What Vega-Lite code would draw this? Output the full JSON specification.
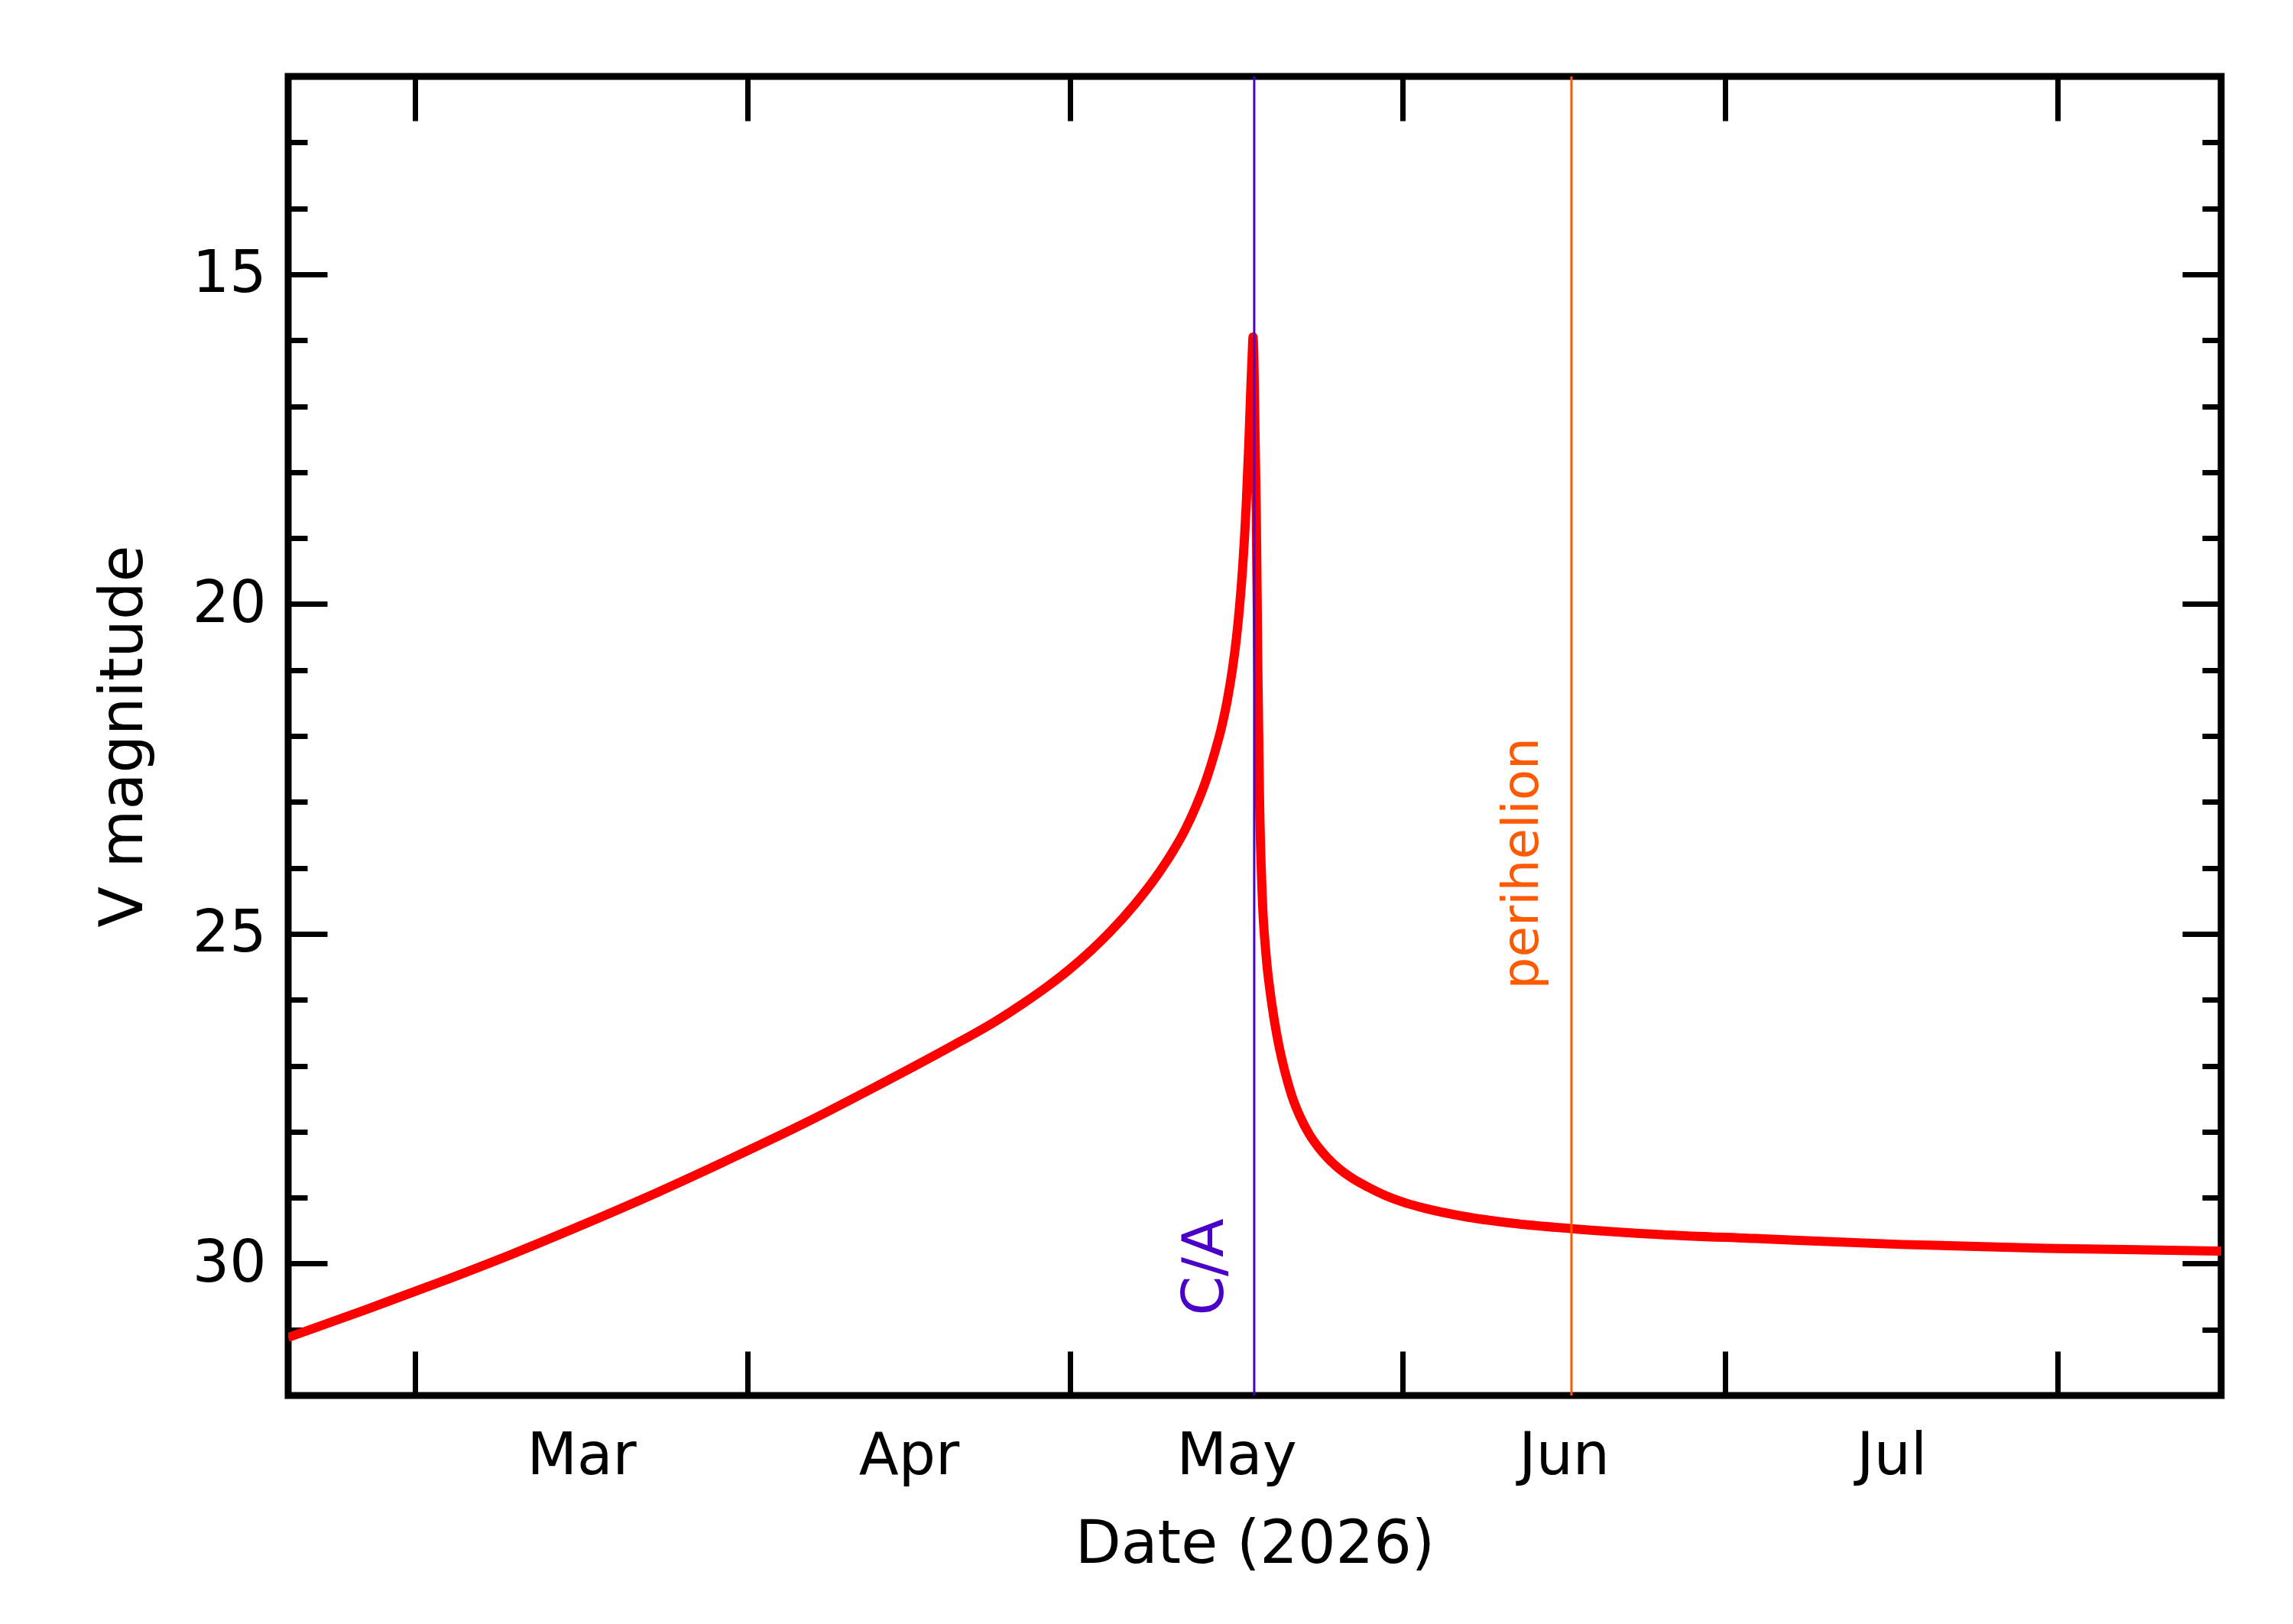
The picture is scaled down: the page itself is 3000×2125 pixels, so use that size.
{
  "$schema": "https://vega.github.io/schema/vega-lite/v6.json",
  "width": 2529,
  "height": 1726,
  "autosize": {"type": "none"},
  "padding": {"left": 377, "top": 100, "right": 94, "bottom": 299},
  "background": "white",
  "datasets": {
    "curve": [
      {"date": "2026-02-17T04:48:00Z", "mag": 31.12},
      {"date": "2026-02-24T09:36:00Z", "mag": 30.70},
      {"date": "2026-03-03T04:48:00Z", "mag": 30.29},
      {"date": "2026-03-10T00:00:00Z", "mag": 29.86},
      {"date": "2026-03-16T19:12:00Z", "mag": 29.40},
      {"date": "2026-03-23T14:24:00Z", "mag": 28.92},
      {"date": "2026-03-30T09:36:00Z", "mag": 28.41},
      {"date": "2026-04-06T04:48:00Z", "mag": 27.88},
      {"date": "2026-04-13T00:00:00Z", "mag": 27.31},
      {"date": "2026-04-19T21:36:00Z", "mag": 26.71},
      {"date": "2026-04-24T01:12:00Z", "mag": 26.33},
      {"date": "2026-04-26T16:48:00Z", "mag": 26.05},
      {"date": "2026-04-29T01:12:00Z", "mag": 25.78},
      {"date": "2026-04-30T19:12:00Z", "mag": 25.56},
      {"date": "2026-05-03T01:12:00Z", "mag": 25.24},
      {"date": "2026-05-04T19:12:00Z", "mag": 24.96},
      {"date": "2026-05-07T01:12:00Z", "mag": 24.55},
      {"date": "2026-05-09T00:00:00Z", "mag": 24.14},
      {"date": "2026-05-10T13:12:00Z", "mag": 23.76},
      {"date": "2026-05-11T16:48:00Z", "mag": 23.43},
      {"date": "2026-05-12T18:00:00Z", "mag": 23.06},
      {"date": "2026-05-13T16:48:00Z", "mag": 22.66},
      {"date": "2026-05-14T10:48:00Z", "mag": 22.27},
      {"date": "2026-05-15T02:24:00Z", "mag": 21.88},
      {"date": "2026-05-15T15:36:00Z", "mag": 21.46},
      {"date": "2026-05-16T02:24:00Z", "mag": 21.02},
      {"date": "2026-05-16T12:00:00Z", "mag": 20.52},
      {"date": "2026-05-16T19:12:00Z", "mag": 20.03},
      {"date": "2026-05-17T02:24:00Z", "mag": 19.40},
      {"date": "2026-05-17T09:36:00Z", "mag": 18.55},
      {"date": "2026-05-17T15:36:00Z", "mag": 17.60},
      {"date": "2026-05-17T20:24:00Z", "mag": 16.70},
      {"date": "2026-05-18T00:00:00Z", "mag": 16.10},
      {"date": "2026-05-18T01:12:00Z", "mag": 15.95},
      {"date": "2026-05-18T03:07:00Z", "mag": 16.30},
      {"date": "2026-05-18T06:00:00Z", "mag": 17.60},
      {"date": "2026-05-18T08:24:00Z", "mag": 18.60},
      {"date": "2026-05-18T12:00:00Z", "mag": 21.00},
      {"date": "2026-05-18T15:36:00Z", "mag": 22.90},
      {"date": "2026-05-18T21:36:00Z", "mag": 24.40},
      {"date": "2026-05-19T06:00:00Z", "mag": 25.30},
      {"date": "2026-05-19T15:50:00Z", "mag": 25.90},
      {"date": "2026-05-20T01:12:00Z", "mag": 26.33},
      {"date": "2026-05-20T10:34:00Z", "mag": 26.68},
      {"date": "2026-05-21T01:12:00Z", "mag": 27.11},
      {"date": "2026-05-21T15:36:00Z", "mag": 27.45},
      {"date": "2026-05-22T10:48:00Z", "mag": 27.78},
      {"date": "2026-05-23T07:00:00Z", "mag": 28.04},
      {"date": "2026-05-24T03:36:00Z", "mag": 28.24},
      {"date": "2026-05-25T00:00:00Z", "mag": 28.40},
      {"date": "2026-05-26T01:12:00Z", "mag": 28.56},
      {"date": "2026-05-27T03:07:00Z", "mag": 28.69},
      {"date": "2026-05-28T18:00:00Z", "mag": 28.84},
      {"date": "2026-05-30T09:36:00Z", "mag": 28.97},
      {"date": "2026-06-01T01:12:00Z", "mag": 29.07},
      {"date": "2026-06-03T00:00:00Z", "mag": 29.16},
      {"date": "2026-06-06T12:00:00Z", "mag": 29.28},
      {"date": "2026-06-11T07:12:00Z", "mag": 29.39},
      {"date": "2026-06-16T16:48:00Z", "mag": 29.47},
      {"date": "2026-06-25T01:12:00Z", "mag": 29.56},
      {"date": "2026-07-03T19:12:00Z", "mag": 29.62},
      {"date": "2026-07-17T09:36:00Z", "mag": 29.71},
      {"date": "2026-07-31T00:00:00Z", "mag": 29.77},
      {"date": "2026-08-16T04:48:00Z", "mag": 29.81}
    ],
    "events": [
      {"event": "C/A", "date": "2026-05-18T03:50:00Z"},
      {"event": "perihelion", "date": "2026-06-16T16:48:00Z"}
    ],
    "labels": [
      {"event": "C/A", "date": "2026-05-15T06:00:00Z", "mag": 30.79},
      {"event": "perihelion", "date": "2026-06-13T14:24:00Z", "mag": 25.84}
    ]
  },
  "data": {"name": "curve"},
  "layer": [
    {
      "mark": {"type": "line", "color": "#ff0000", "strokeWidth": 12, "interpolate": "monotone", "clip": true},
      "encoding": {
        "x": {
          "field": "date", "type": "temporal",
          "scale": {
            "type": "utc",
            "domain": [
              {"year": 2026, "month": "Feb", "date": 17, "hours": 4, "minutes": 48, "utc": true},
              {"year": 2026, "month": "Aug", "date": 16, "hours": 4, "minutes": 48, "utc": true}
            ]
          },
          "axis": {
            "orient": "bottom", "tickSize": -58, "labels": false, "title": null,
            "values": [
              {"year": 2026, "month": "Mar", "date": 1, "utc": true},
              {"year": 2026, "month": "Apr", "date": 1, "utc": true},
              {"year": 2026, "month": "May", "date": 1, "utc": true},
              {"year": 2026, "month": "Jun", "date": 1, "utc": true},
              {"year": 2026, "month": "Jul", "date": 1, "utc": true},
              {"year": 2026, "month": "Aug", "date": 1, "utc": true}
            ]
          }
        },
        "y": {
          "field": "mag", "type": "quantitative",
          "scale": {"domain": [12, 32], "reverse": true, "zero": false, "nice": false},
          "axis": {"orient": "left", "values": [15, 20, 25, 30], "tickSize": -51, "labels": false, "title": null}
        }
      }
    },
    {
      "mark": {"type": "line", "opacity": 0},
      "encoding": {
        "x": {
          "field": "date", "type": "temporal",
          "axis": {
            "orient": "bottom", "ticks": false, "labelPadding": 42, "format": "%b",
            "labelFlush": false, "labelOverlap": false,
            "title": "Date (2026)", "titleBaseline": "alphabetic", "titleY": 218,
            "values": [
              {"year": 2026, "month": "Mar", "date": 16, "hours": 12, "utc": true},
              {"year": 2026, "month": "Apr", "date": 16, "utc": true},
              {"year": 2026, "month": "May", "date": 16, "hours": 12, "utc": true},
              {"year": 2026, "month": "Jun", "date": 16, "utc": true},
              {"year": 2026, "month": "Jul", "date": 16, "hours": 12, "utc": true}
            ]
          }
        },
        "y": {
          "field": "mag", "type": "quantitative",
          "axis": {"orient": "left", "values": [13, 14, 16, 17, 18, 19, 21, 22, 23, 24, 26, 27, 28, 29, 31], "tickSize": -25, "labels": false, "title": null}
        }
      }
    },
    {
      "mark": {"type": "line", "opacity": 0},
      "encoding": {
        "x": {
          "field": "date", "type": "temporal",
          "axis": {
            "orient": "top", "tickSize": -58, "labels": false, "title": null,
            "values": [
              {"year": 2026, "month": "Mar", "date": 1, "utc": true},
              {"year": 2026, "month": "Apr", "date": 1, "utc": true},
              {"year": 2026, "month": "May", "date": 1, "utc": true},
              {"year": 2026, "month": "Jun", "date": 1, "utc": true},
              {"year": 2026, "month": "Jul", "date": 1, "utc": true},
              {"year": 2026, "month": "Aug", "date": 1, "utc": true}
            ]
          }
        },
        "y": {
          "field": "mag", "type": "quantitative",
          "axis": {
            "orient": "left", "values": [15, 20, 25, 30], "ticks": false, "labelPadding": 29,
            "title": "V magnitude", "titleX": -192, "titleBaseline": "alphabetic"
          }
        }
      }
    },
    {
      "mark": {"type": "line", "opacity": 0},
      "encoding": {
        "x": {"field": "date", "type": "temporal", "axis": null},
        "y": {
          "field": "mag", "type": "quantitative",
          "axis": {"orient": "right", "values": [15, 20, 25, 30], "tickSize": -51, "labels": false, "title": null}
        }
      }
    },
    {
      "mark": {"type": "line", "opacity": 0},
      "encoding": {
        "x": {"field": "date", "type": "temporal", "axis": null},
        "y": {
          "field": "mag", "type": "quantitative",
          "axis": {"orient": "right", "values": [13, 14, 16, 17, 18, 19, 21, 22, 23, 24, 26, 27, 28, 29, 31], "tickSize": -25, "labels": false, "title": null}
        }
      }
    },
    {
      "data": {"name": "events"},
      "mark": {"type": "rule", "strokeWidth": 3},
      "encoding": {
        "x": {"field": "date", "type": "temporal", "axis": null},
        "color": {
          "field": "event", "type": "nominal", "legend": null,
          "scale": {"domain": ["C/A", "perihelion"], "range": ["#4b00c8", "#ff5a00"]}
        }
      }
    },
    {
      "data": {"name": "labels"},
      "mark": {"type": "text", "angle": 270, "align": "left", "baseline": "alphabetic", "font": "DejaVu Sans"},
      "encoding": {
        "x": {"field": "date", "type": "temporal", "axis": null},
        "y": {"field": "mag", "type": "quantitative", "axis": null},
        "text": {"field": "event"},
        "color": {"field": "event", "type": "nominal", "legend": null},
        "size": {
          "field": "event", "type": "nominal", "legend": null,
          "scale": {"type": "ordinal", "domain": ["C/A", "perihelion"], "range": [74, 66]}
        }
      }
    }
  ],
  "resolve": {"axis": {"x": "independent", "y": "independent"}},
  "config": {
    "view": {"stroke": "black", "strokeWidth": 9},
    "axis": {
      "domain": false,
      "grid": false,
      "tickColor": "black",
      "tickWidth": 7,
      "labelFont": "DejaVu Sans",
      "labelFontSize": 76,
      "labelColor": "black",
      "titleFont": "DejaVu Sans",
      "titleFontSize": 78,
      "titleFontWeight": "normal",
      "titleColor": "black"
    }
  }
}
